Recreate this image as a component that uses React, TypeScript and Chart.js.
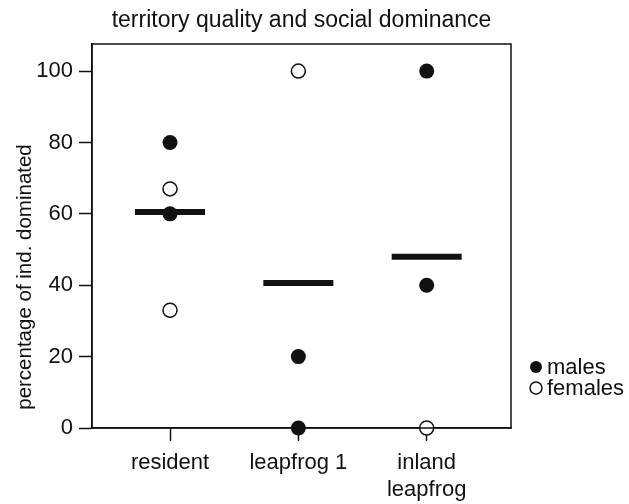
import React, { useEffect, useRef } from "react";
import { Chart, registerables } from "chart.js";

Chart.register(...registerables);

const categories: (string | string[])[] = ["resident", "leapfrog 1", ["inland", "leapfrog"]];
const categoryPositions = [1, 2, 3];
const maleX = [1, 1, 2, 2, 3, 3];
const maleY = [80, 60, 20, 0, 100, 40];
const femaleX = [1, 1, 2, 3];
const femaleY = [67, 33, 100, 0];
const medianY = [60.5, 40.6, 48];
const yTicks = [0, 20, 40, 60, 80, 100];

const titleText = "territory quality and social dominance";
const yTitle = "percentage of ind. dominated";
const legendItems = [
  { label: "males", filled: true },
  { label: "females", filled: false },
];

const INK = "#111111";
const FONT = "'Liberation Sans', Arial, sans-serif";

const extrasPlugin = {
  id: "extras",
  afterDraw(chart: any) {
    const { ctx, chartArea } = chart;
    ctx.save();
    ctx.strokeStyle = INK;
    ctx.lineWidth = 1.5;
    ctx.strokeRect(chartArea.left, chartArea.top, chartArea.right - chartArea.left, chartArea.bottom - chartArea.top);
    ctx.restore();
  },
  afterDatasetsDraw(chart: any) {
    const { ctx, chartArea } = chart;
    ctx.save();
    ctx.fillStyle = INK;
    ctx.font = `23px ${FONT}`;
    ctx.textAlign = "center";
    ctx.textBaseline = "middle";
    ctx.fillText(titleText, (chartArea.left + chartArea.right) / 2, 21);
    ctx.save();
    ctx.translate(25, 277);
    ctx.rotate(-Math.PI / 2);
    ctx.font = `20.5px ${FONT}`;
    ctx.fillText(yTitle, 0, 0);
    ctx.restore();
    ctx.font = `22px ${FONT}`;
    ctx.textAlign = "left";
    legendItems.forEach((it, i) => {
      const cy = 367 + i * 21;
      ctx.beginPath();
      ctx.arc(536, cy, 6, 0, Math.PI * 2);
      if (it.filled) {
        ctx.fillStyle = INK;
        ctx.fill();
      } else {
        ctx.fillStyle = "#fff";
        ctx.fill();
        ctx.strokeStyle = INK;
        ctx.lineWidth = 1.5;
        ctx.stroke();
      }
      ctx.fillStyle = INK;
      ctx.fillText(it.label, 547, cy + 1);
    });
    ctx.restore();
  },
};

export default function App() {
  const ref = useRef<HTMLCanvasElement | null>(null);
  useEffect(() => {
    if (!ref.current) return;
    const chart = new Chart(ref.current, {
      type: "scatter",
      data: {
        datasets: [
          {
            label: "median",
            data: categoryPositions.map((x, i) => ({ x, y: medianY[i] })),
            pointStyle: "line",
            radius: 35,
            borderWidth: 6,
            borderColor: INK,
            backgroundColor: INK,
            clip: false,
            order: 3,
          } as any,
          {
            label: "males",
            data: maleX.map((x, i) => ({ x, y: maleY[i] })),
            pointStyle: "circle",
            radius: 7.5,
            borderWidth: 0,
            backgroundColor: INK,
            borderColor: INK,
            clip: false,
            order: 2,
          } as any,
          {
            label: "females",
            data: femaleX.map((x, i) => ({ x, y: femaleY[i] })),
            pointStyle: "circle",
            radius: 7,
            borderWidth: 1.5,
            backgroundColor: "#ffffff",
            borderColor: INK,
            clip: false,
            order: 1,
          } as any,
        ],
      },
      options: {
        animation: false,
        responsive: false,
        layout: { padding: { left: 0, top: 44, right: 118, bottom: 0 } },
        plugins: { legend: { display: false }, tooltip: { enabled: false }, title: { display: false } },
        scales: {
          x: {
            type: "linear",
            min: 0.392,
            max: 3.657,
            afterBuildTicks: (scale: any) => {
              scale.ticks = categoryPositions.map((v) => ({ value: v }));
            },
            afterFit: (scale: any) => {
              scale.height = 76;
            },
            ticks: {
              color: INK,
              font: { family: FONT, size: 22, lineHeight: 1.23 },
              padding: 8,
              maxRotation: 0,
              autoSkip: false,
              callback: (v: any) => {
                const i = categoryPositions.indexOf(Number(v));
                return i >= 0 ? categories[i] : "";
              },
            },
            grid: { drawOnChartArea: false, tickLength: 13, tickColor: INK, tickWidth: 1.5 },
            border: { display: true, color: INK, width: 1.5 },
          },
          y: {
            type: "linear",
            min: 0,
            max: 107.6,
            afterBuildTicks: (scale: any) => {
              scale.ticks = yTicks.map((v) => ({ value: v }));
            },
            afterFit: (scale: any) => {
              scale.width = 92;
            },
            ticks: {
              color: INK,
              font: { family: FONT, size: 22 },
              padding: 6,
              autoSkip: false,
            },
            grid: { drawOnChartArea: false, tickLength: 13, tickColor: INK, tickWidth: 1.5 },
            border: { display: true, color: INK, width: 1.5 },
          },
        },
      },
      plugins: [extrasPlugin],
    });
    return () => chart.destroy();
  }, []);
  return (
    <div style={{ position: "fixed", left: 0, top: 0, width: 629, height: 504, background: "#fff" }}>
      <canvas ref={ref} width={629} height={504} style={{ width: 629, height: 504, display: "block" }} />
    </div>
  );
}
